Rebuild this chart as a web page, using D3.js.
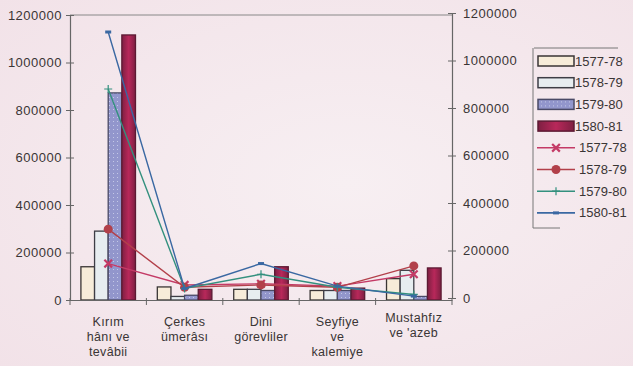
<!DOCTYPE html>
<html><head><meta charset="utf-8">
<script src="https://cdn.jsdelivr.net/npm/d3@7"></script>
<style>body{margin:0;background:#f3e5ea;}svg{display:block;}</style>
</head><body>
<script>
const categories = [["Kırım","hânı ve","tevâbii"],["Çerkes","ümerâsı"],["Dini","görevliler"],["Seyfiye","ve","kalemiye"],["Mustahfız","ve 'azeb"]];
const seriesNames = ["1577-78","1578-79","1579-80","1580-81"];
const bars1577 = [140000, 55000, 45000, 40000, 90000];
const bars1578 = [290000, 15000, 45000, 40000, 125000];
const bars1579 = [872000, 20000, 40000, 40000, 15000];
const bars1580 = [1116000, 45000, 140000, 50000, 135000];
const line1577 = [145000, 55000, 60000, 50000, 100000];
const line1578 = [290000, 45000, 55000, 45000, 135000];
const line1579 = [880000, 40000, 100000, 45000, 15000];
const line1580 = [1120000, 40000, 145000, 50000, 8000];
const tickValues = [0, 200000, 400000, 600000, 800000, 1000000, 1200000];

(function(){
const W = 633, H = 366;
const svg = d3.select("body").append("svg").attr("width", W).attr("height", H);
const defs = svg.append("defs");
const g1 = defs.append("radialGradient").attr("id","bg").attr("cx","55%").attr("cy","50%").attr("r","75%");
g1.append("stop").attr("offset","0%").attr("stop-color","#f7eff2");
g1.append("stop").attr("offset","100%").attr("stop-color","#f2e2e8");
svg.append("rect").attr("width",W).attr("height",H).attr("fill","url(#bg)");
const g4 = defs.append("linearGradient").attr("id","b4");
g4.append("stop").attr("offset","0%").attr("stop-color","#7e1f42");
g4.append("stop").attr("offset","50%").attr("stop-color","#b8285a");
g4.append("stop").attr("offset","100%").attr("stop-color","#7e1f42");
const pat = defs.append("pattern").attr("id","dots").attr("width",4).attr("height",4).attr("patternUnits","userSpaceOnUse");
pat.append("rect").attr("width",4).attr("height",4).attr("fill","#9296cc");
pat.append("rect").attr("x",1).attr("y",1).attr("width",1).attr("height",1).attr("fill","#c4c8e6");

const pL = 70, pR = 452, pT = 15, pB = 300;
const x0 = d3.scaleBand().domain(d3.range(categories.length)).range([pL, pR]).paddingInner(0).paddingOuter(0);
const x1 = d3.scaleBand().domain(d3.range(4)).range([0, x0.bandwidth()]).paddingInner(0).paddingOuter(0.8);
const y = d3.scaleLinear().domain([0, 1200000]).range([pB, pT]);
const yR = d3.scaleLinear().domain([0, 1200000]).range([pB - 2, pT - 2]);

svg.append("line").attr("x1",pL).attr("x2",pR).attr("y1",pT).attr("y2",pT).attr("stroke","#888").attr("stroke-width",1);

const barData = [bars1577, bars1578, bars1579, bars1580];
const barFill = ["#f7ecd9", "#e7edf0", "url(#dots)", "url(#b4)"];
const barStroke = ["#3a3535", "#3d3d45", "#4a4a66", "#5c1a33"];
barData.forEach((arr, si) => {
  svg.append("g").selectAll("rect").data(arr).join("rect")
    .attr("x", (d,i) => x0(i) + x1(si))
    .attr("y", d => y(d))
    .attr("width", x1.bandwidth())
    .attr("height", d => y(0) - y(d))
    .attr("fill", barFill[si]).attr("stroke", barStroke[si]).attr("stroke-width", 1.3);
});

const lineData = [line1577, line1578, line1579, line1580];
const lineColor = ["#c43a66", "#b2404a", "#33907e", "#3a68a2"];
const line = d3.line().x((d,i) => x0(i) + x0.bandwidth()/2).y(d => yR(d));
function marker(sel, si, color) {
  if (si === 0) {
    sel.append("path").attr("d", d3.symbol(d3.symbolX, 40)()).attr("stroke", color).attr("stroke-width", 2.2).attr("fill","none");
  } else if (si === 1) {
    sel.append("circle").attr("r", 4.5).attr("fill", color);
  } else if (si === 2) {
    sel.append("path").attr("d", "M-4,0H4M0,-4V4").attr("fill", "none").attr("stroke", color).attr("stroke-width",1.2);
  } else {
    sel.append("rect").attr("x",-3).attr("y",-1.5).attr("width",6).attr("height",3).attr("fill", color);
  }
}
lineData.forEach((arr, si) => {
  svg.append("path").datum(arr).attr("d", line).attr("fill","none").attr("stroke", lineColor[si]).attr("stroke-width", 1.4);
  svg.append("g").selectAll("g").data(arr).join("g")
    .attr("transform", (d,i) => `translate(${x0(i) + x0.bandwidth()/2},${yR(d)})`)
    .each(function(){ marker(d3.select(this), si, lineColor[si]); });
});

const fontFam = "'Liberation Sans', Arial, sans-serif";
const axL = svg.append("g").attr("transform", `translate(${pL},0)`)
  .call(d3.axisLeft(y).tickValues(tickValues).tickFormat(d3.format("d")).tickSizeInner(4).tickSizeOuter(0));
axL.selectAll(".tick line").attr("x2", 4).attr("x1", -4);
const axR = svg.append("g").attr("transform", `translate(${pR},0)`)
  .call(d3.axisRight(yR).tickValues(tickValues).tickFormat(d3.format("d")).tickSizeInner(4).tickSizeOuter(0));
axR.selectAll(".tick line").attr("x1", -4).attr("x2", 4);
axR.selectAll(".tick text").attr("x", 11);
axL.selectAll(".tick text").attr("x", -8);
const axB = svg.append("g").attr("transform", `translate(0,${pB})`)
  .call(d3.axisBottom(x0).tickValues([]).tickSizeOuter(0));
svg.append("g").selectAll("line").data(d3.range(categories.length + 1)).join("line")
  .attr("x1", i => pL + i * x0.bandwidth()).attr("x2", i => pL + i * x0.bandwidth())
  .attr("y1", pB - 2).attr("y2", pB + 5).attr("stroke", "#666");
[axL, axR, axB].forEach(a => {
  a.selectAll(".domain").attr("stroke", "#666").attr("stroke-width", 1.2);
  a.selectAll(".tick line").attr("stroke", "#666");
  a.selectAll("text").attr("font-family", fontFam).attr("font-size", 13).attr("letter-spacing", 0.5).attr("fill", "#3a3535");
});

categories.forEach((lines, i) => {
  const t = svg.append("text").attr("text-anchor","middle").attr("font-family", fontFam).attr("font-size", 12.5).attr("letter-spacing", 0.3).attr("fill","#3a3535");
  lines.forEach((s, k) => {
    t.append("tspan").attr("x", x0(i) + x0.bandwidth()/2).attr("y", 326 + k * 15 - (i === 4 ? 4 : 0)).text(s);
  });
});

svg.append("path").attr("d","M534,48H618M533,48V228H560").attr("stroke","#777").attr("fill","none").attr("stroke-width",1);
const lg = svg.append("g");
for (let k = 0; k < 8; k++) {
  const cy = 61 + k * 21.7;
  const row = lg.append("g").attr("transform", `translate(0,${cy})`);
  if (k < 4) {
    row.append("rect").attr("x", 538).attr("y", -5).attr("width", 36).attr("height", 10)
      .attr("fill", barFill[k]).attr("stroke", barStroke[k]).attr("stroke-width", 1.5);
  } else {
    const si = k - 4;
    row.append("line").attr("x1", 537).attr("x2", 575).attr("stroke", lineColor[si]).attr("stroke-width", 1.6);
    const m = row.append("g").attr("transform", "translate(556,0)");
    marker(m, si, lineColor[si]);
  }
  row.append("text").attr("x", k < 4 ? 575 : 579).attr("y", 4.5).attr("font-family", fontFam).attr("font-size", 13).attr("fill","#3a3535").text(seriesNames[k % 4]);
}
})();
</script>
</body></html>
